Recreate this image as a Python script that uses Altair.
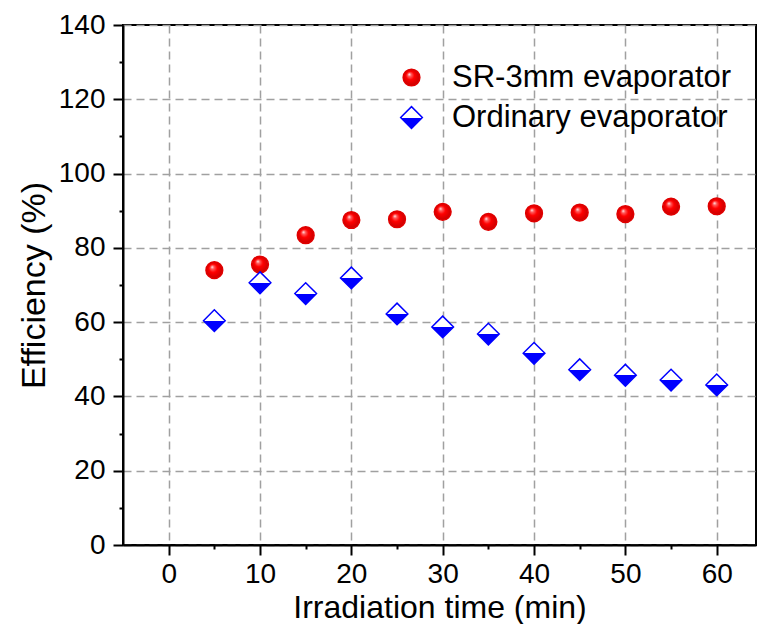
import altair as alt
import pandas as pd

# ---- data ----
time_min = [5, 10, 15, 20, 25, 30, 35, 40, 45, 50, 55, 60]
sr3mm = [74.0, 75.5, 83.4, 87.5, 87.7, 89.7, 87.0, 89.3, 89.5, 89.1, 91.1, 91.2]
ordinary = [60.4, 70.6, 67.7, 71.9, 62.2, 58.7, 56.8, 51.6, 47.2, 45.7, 44.4, 43.1]
series_names = ["SR-3mm evaporator", "Ordinary evaporator"]
x_ticks = list(range(0, 61, 5))
y_ticks = list(range(0, 141, 10))

df = pd.DataFrame({
    "time": time_min + time_min,
    "eff": sr3mm + ordinary,
    "series": [series_names[0]] * len(sr3mm) + [series_names[1]] * len(ordinary),
})

FONT = "Liberation Sans"

sphere = ("{gradient: 'radial', x1: 0.36, y1: 0.3, r1: 0, x2: 0.5, y2: 0.5, r2: 0.55, "
          "stops: [{offset: 0, color: '#ffffff'}, {offset: 0.18, color: '#ff6060'}, "
          "{offset: 0.45, color: '#ff0000'}, {offset: 1, color: '#c00000'}]}")
half = ("{gradient: 'linear', x1: 0, y1: 0, x2: 0, y2: 1, "
        "stops: [{offset: 0, color: '#ffffff'}, {offset: 0.5, color: '#ffffff'}, "
        "{offset: 0.5, color: '#0000ff'}, {offset: 1, color: '#0000ff'}]}")

legend = alt.Legend(title=None, orient="none", legendX=273, legendY=37,
                    labelFontSize=31, labelFont=FONT, labelColor="black",
                    labelOffset=25, rowPadding=8, padding=0, labelLimit=600,
                    symbolStrokeWidth=1.5)


def axis(title, values, major, minor_len, major_len, pad, tpad, tsize):
    test = f"datum.value % {major} === 0"
    return alt.Axis(
        values=values, title=title,
        labelExpr=f"{test} ? datum.label : ''",
        tickSize={"condition": {"test": test, "value": major_len}, "value": minor_len},
        gridOpacity={"condition": {"test": test, "value": 1}, "value": 0},
        grid=True, gridColor="#a0a0a0", gridDash=[8, 5], gridWidth=1.5,
        domainColor="black", domainWidth=2, tickColor="black", tickWidth=2,
        labelFontSize=28, labelFont=FONT, labelColor="black", labelPadding=pad,
        labelFlush=False, labelOverlap=False,
        titleFontSize=tsize, titleFont=FONT, titleFontWeight="normal",
        titleColor="black", titlePadding=tpad,
    )


xaxis = axis("Irradiation time (min)", x_ticks, 10, 4, 10, 5, 4, 32)
yaxis = axis("Efficiency (%)", y_ticks, 20, 4, 10, 8, 7, 34)

chart = alt.Chart(df).mark_point(filled=True, opacity=1, strokeWidth=1.5).encode(
    x=alt.X("time:Q", scale=alt.Scale(domain=[-5, 64.3], nice=False, zero=False), axis=xaxis),
    y=alt.Y("eff:Q", scale=alt.Scale(domain=[0, 140], nice=False), axis=yaxis),
    fill=alt.Fill("series:N", scale=alt.Scale(domain=series_names,
                                              range=[alt.ExprRef(sphere), alt.ExprRef(half)]),
                  legend=legend),
    stroke=alt.Stroke("series:N", scale=alt.Scale(domain=series_names, range=["#e00000", "#0000ff"]),
                      legend=legend),
    shape=alt.Shape("series:N", scale=alt.Scale(domain=series_names, range=["circle", "diamond"]),
                    legend=legend),
    size=alt.Size("series:N", scale=alt.Scale(domain=series_names, range=[280, 470]),
                  legend=legend),
).properties(
    width=633, height=520,
    padding={"left": 115, "top": 17, "right": 1, "bottom": 79},
    autosize=alt.AutoSizeParams(type="none"),
).configure_view(stroke="black", strokeWidth=2)

chart.save("out.html", embed_options={"renderer": "svg", "actions": False})
